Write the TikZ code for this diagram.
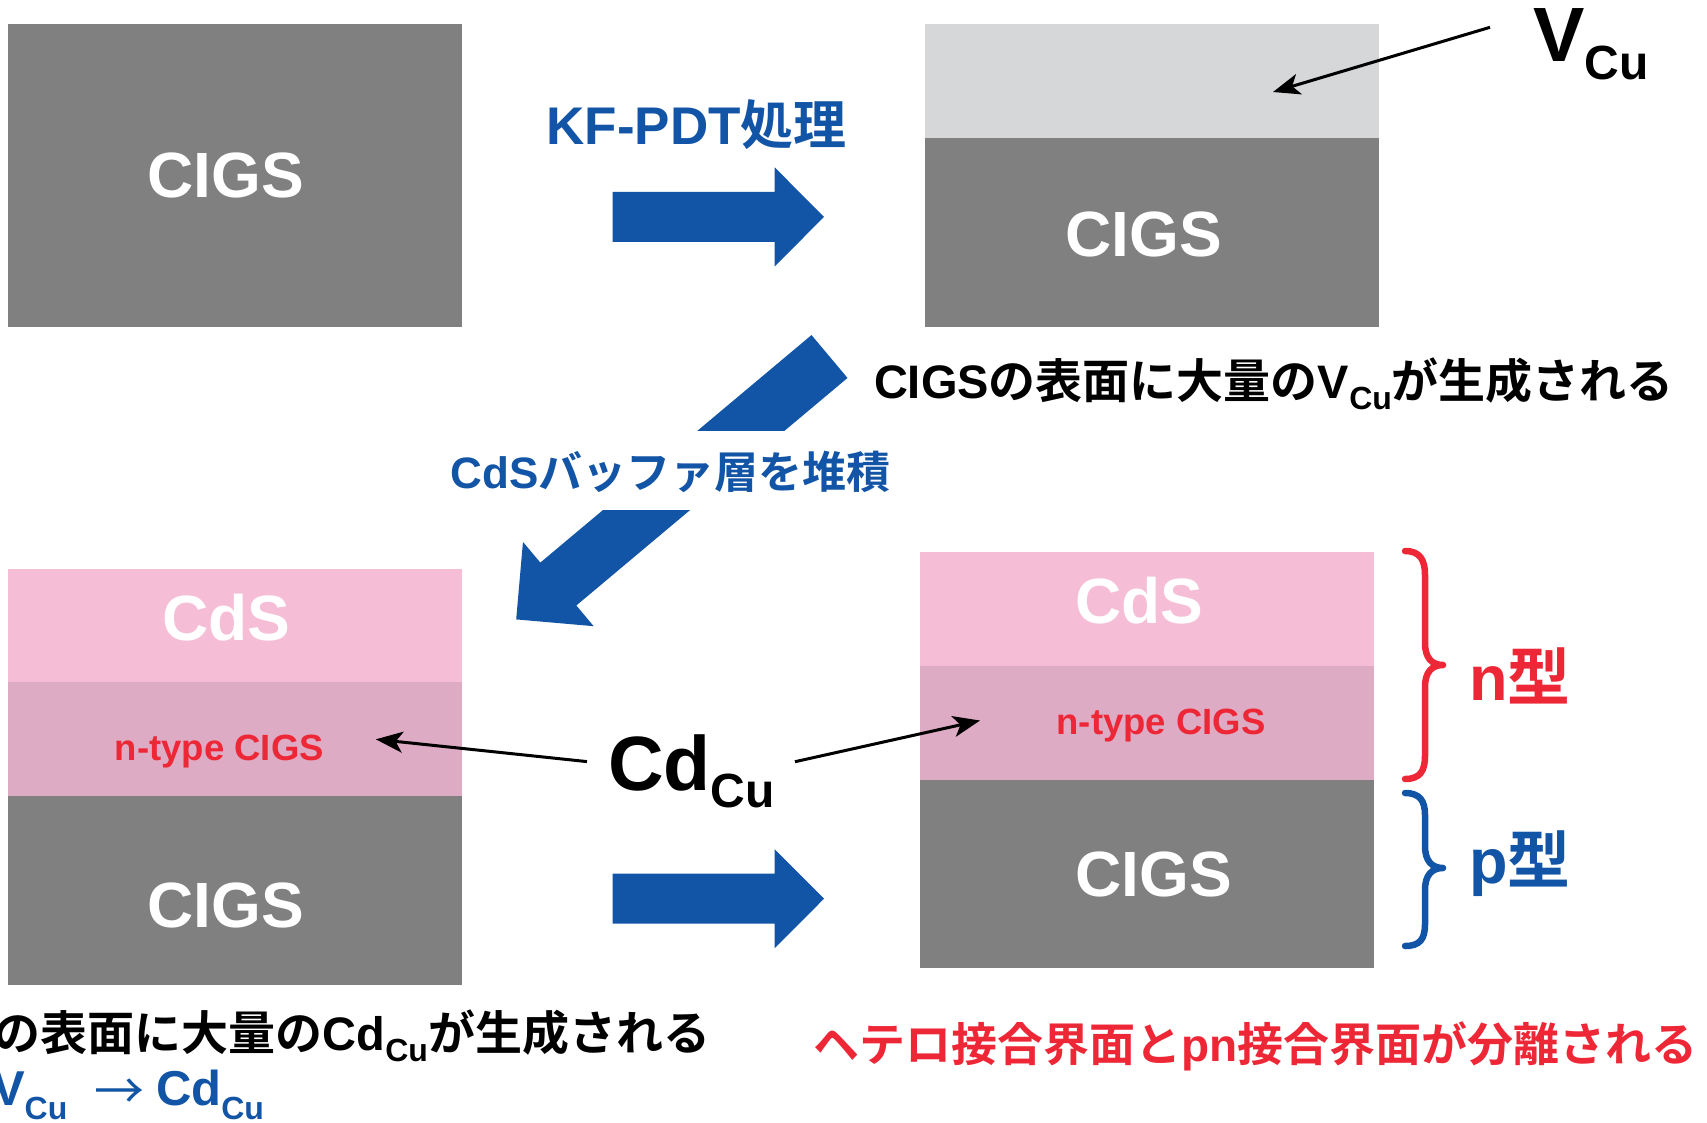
\documentclass[tikz,border=0pt]{standalone}
\usepackage{fontspec}
\setmainfont{Liberation Sans}
\newfontfamily\jp{Noto Sans CJK JP}[BoldFont={Noto Sans CJK JP Bold}]
\usetikzlibrary{arrows.meta}

\definecolor{flowblue}{HTML}{1254A5}
\definecolor{alertred}{HTML}{EE2737}
\definecolor{cigsgray}{HTML}{808080}
\definecolor{vacgray}{HTML}{D6D7D9}
\definecolor{cdspink}{HTML}{F6BED6}
\definecolor{ntypepink}{HTML}{DEABC4}

\newcommand\fs[1]{\fontsize{#1}{#1}\selectfont}
\newcommand\J[1]{{\jp #1}}
% lowered subscript: size, drop, text
\newcommand\sbs[3]{\raisebox{-#2pt}{\fs{#1}#3}}

\tikzset{
  layer/.style={draw=none, inner sep=0, outer sep=0, minimum width=454, anchor=north west},
  lbl/.style={inner sep=0, outer sep=0, anchor=base},
  flow/.style={fill=flowblue},
  pointer/.style={line width=3, -{Stealth[length=27,width=21,inset=7]}},
  bracket/.style={line width=6.5, line cap=round, line join=round},
}

\begin{document}
\begin{tikzpicture}[x=1pt,y=-1pt]
\useasboundingbox (0,0) rectangle (1707,1122);
\clip (0,0) rectangle (1707,1122);

% ---- stage 1: bare absorber
\node[layer, fill=cigsgray, minimum height=303] (A) at (8,24) {};
\node[lbl, white, font=\bfseries\fs{64}] (A-txt) at (225.7,197) {CIGS};

% ---- stage 2: Cu-depleted surface after KF-PDT
\node[layer, fill=vacgray, minimum height=114] (B-top) at (925,24) {};
\node[layer, fill=cigsgray, minimum height=189] (B-bot) at (925,138) {};
\node[lbl, white, font=\bfseries\fs{64}] (B-txt) at (1143.6,256.4) {CIGS};

% ---- stage 3: CdS deposited
\node[layer, fill=cdspink, minimum height=114] (C-cds) at (8,568.6) {};
\node[layer, fill=ntypepink, minimum height=114] (C-n) at (8,682.4) {};
\node[layer, fill=cigsgray, minimum height=188.5] (C-bot) at (8,796) {};
\node[lbl, white, font=\bfseries\fs{64}] (C-cds-txt) at (226,640) {CdS};
\node[lbl, alertred, font=\bfseries\fs{36.5}] (C-n-txt) at (219.4,760.5) {n-type CIGS};
\node[lbl, white, font=\bfseries\fs{64}] (C-bot-txt) at (226,927.5) {CIGS};

% ---- stage 4: separated junction
\node[layer, fill=cdspink, minimum height=114] (D-cds) at (920,552) {};
\node[layer, fill=ntypepink, minimum height=114.3] (D-n) at (920,665.5) {};
\node[layer, fill=cigsgray, minimum height=188] (D-bot) at (920,779.8) {};
\node[lbl, white, font=\bfseries\fs{64}] (D-cds-txt) at (1139.6,623.5) {CdS};
\node[lbl, alertred, font=\bfseries\fs{36.5}] (D-n-txt) at (1161,734.5) {n-type CIGS};
\node[lbl, white, font=\bfseries\fs{64}] (D-bot-txt) at (1153.7,896.5) {CIGS};

% ---- process arrows
\fill[flow, shift={(612.7,216.9)}] (0,-25) -- (162,-25) -- (162,-49.5) -- (211.3,0)
  -- (162,49.5) -- (162,25) -- (0,25) -- cycle;
\fill[flow, shift={(612.7,898.7)}] (0,-25) -- (162,-25) -- (162,-49.5) -- (211.3,0)
  -- (162,49.5) -- (162,25) -- (0,25) -- cycle;
\fill[flow, shift={(829.5,356.5)}, rotate=220] (0,-28) -- (354,-28) -- (354,-55) -- (409,0)
  -- (354,55) -- (354,28) -- (0,28) -- cycle;
% gap in the diagonal arrow for its label
\fill[white] (560,431) rectangle (860,510);

\node[lbl, flowblue, font=\bfseries\fs{53}] (kf) at (696.6,144.6) {KF-PDT\J{処理}};
\node[lbl, flowblue, font=\bfseries\fs{44}] (dep) at (670.5,488) {CdS\J{バッファ層を堆積}};

% ---- defect labels and pointers
\node[lbl, anchor=base west, font=\bfseries\fs{77}] (vcu) at (1533,61.7) {V\sbs{48}{18}{Cu}};
\coordinate (vcu-from) at (1490,27.3);
\coordinate (vcu-to) at (1273,92);
\draw[pointer] (vcu-from) -- (vcu-to);

\node[lbl, anchor=base west, font=\bfseries\fs{77}] (cdcu) at (608,790) {Cd\sbs{48}{17}{Cu}};
\coordinate (cdcu-left) at (587,761.6);
\coordinate (cdcu-right) at (795,761.7);
\coordinate (cdcu-ltip) at (375.8,739.3);
\coordinate (cdcu-rtip) at (980,720.5);
\draw[pointer] (cdcu-left) -- (cdcu-ltip);
\draw[pointer] (cdcu-right) -- (cdcu-rtip);

% ---- captions
\node[lbl, anchor=base west, font=\bfseries\fs{47}] (cap-b) at (874,398)
  {CIGS\J{の表面に大量の}V\sbs{32}{11}{Cu}\J{が生成される}};
\node[lbl, anchor=base east, font=\bfseries\fs{47}] (cap-c) at (710,1050)
  {\J{の表面に大量の}Cd\sbs{32}{11}{Cu}\J{が生成される}};
\node[lbl, anchor=base west, flowblue, font=\bfseries\fs{49}] (sub-v) at (-8,1105) {V\sbs{32}{14}{Cu}};
\node[inner sep=0, flowblue, font=\jp\fs{50}] (sub-arrow) at (119,1094) {→};
\node[lbl, anchor=base west, flowblue, font=\bfseries\fs{49}] (sub-cd) at (156,1105) {Cd\sbs{32}{14}{Cu}};
\node[lbl, alertred, font=\bfseries\fs{46}] (cap-d) at (1255.5,1061)
  {\J{ヘテロ接合界面と}pn\J{接合界面が分離される}};

% ---- conduction-type brackets
\draw[bracket, alertred] (1405,551) .. controls (1420,551) and (1425,560) .. (1425,575)
  -- (1425,643) .. controls (1425,658) and (1432,665) .. (1443,665)
  .. controls (1432,665) and (1425,672) .. (1425,687)
  -- (1425,756) .. controls (1425,771) and (1420,779) .. (1405,779);
\draw[bracket, flowblue] (1405,793) .. controls (1420,793) and (1425,801) .. (1425,815)
  -- (1425,846) .. controls (1425,861) and (1432,868) .. (1443,868)
  .. controls (1432,868) and (1425,875) .. (1425,890)
  -- (1425,924) .. controls (1425,939) and (1420,946) .. (1405,946);
\node[lbl, anchor=base west, alertred, font=\bfseries\fs{63}] (ntype) at (1469,700) {n\J{型}};
\node[lbl, anchor=base west, flowblue, font=\bfseries\fs{63}] (ptype) at (1469,883.3) {p\J{型}};
\end{tikzpicture}
\end{document}
